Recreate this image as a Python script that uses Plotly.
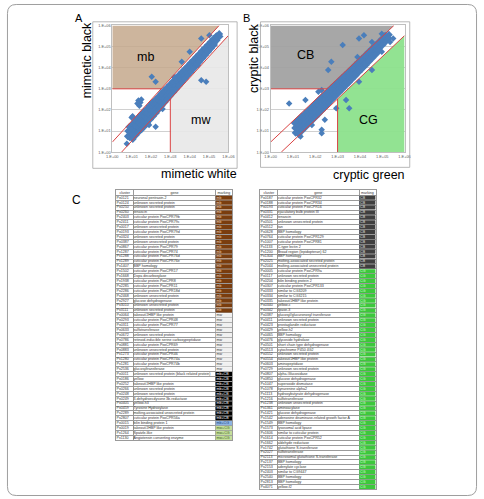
import numpy as np
import plotly.graph_objects as go

W, H = 484, 499
FONT = "Arial, 'Liberation Sans', sans-serif"

def X(p):
    return p / W

def Y(p):
    return 1 - p / H

# ---------------- data ----------------
TICK_VALUES = [1, 10, 100, 1000, 10000, 100000, 1000000]
TICK_LABELS = ["1.E+00", "1.E+01", "1.E+02", "1.E+03", "1.E+04", "1.E+05", "1.E+06"]
THRESHOLD = 1000
FOLD = 3

# Panel A, log10 expression (mimetic white = x, mimetic black = y)
MIMETIC_WHITE_LOG = [
    0.80, 0.82, 0.90, 0.92, 0.88,
    1.05, 1.03, 1.07, 1.06, 1.20, 1.22, 1.18, 1.21, 1.35, 1.37, 1.33, 1.36,
    1.50, 1.52, 1.48, 1.51, 1.65, 1.67, 1.63, 1.66, 1.80, 1.82, 1.78, 1.81,
    1.95, 1.97, 1.93, 1.96, 2.10, 2.12, 2.08, 2.11, 2.25, 2.27, 2.23, 2.26,
    2.40, 2.42, 2.38, 2.41, 2.55, 2.57, 2.53, 2.56, 2.70, 2.72, 2.68, 2.71,
    2.85, 2.87, 2.83, 2.86, 3.00, 3.02, 2.98, 3.01, 3.15, 3.17, 3.13, 3.16,
    3.30, 3.32, 3.28, 3.31, 3.45, 3.47, 3.43, 3.46, 3.60, 3.62, 3.58, 3.61,
    3.75, 3.77, 3.73, 3.76, 3.90, 3.92, 3.88, 3.91, 4.05, 4.07, 4.03, 4.06,
    4.20, 4.22, 4.18, 4.21, 4.35, 4.37, 4.33, 4.36, 4.50, 4.52, 4.48, 4.51,
    4.65, 4.67, 4.63, 4.66, 4.80, 4.82, 4.78, 4.81, 4.95, 4.97, 4.93, 4.96,
    5.10, 5.12, 5.08, 5.11, 5.25, 5.27, 5.23, 5.26, 5.40, 5.42, 5.38,
    5.55, 5.53,
]
MIMETIC_BLACK_LOG = [
    0.75, 1.00, 0.70, 0.95, 1.20,
    0.85, 1.10, 1.35, 0.62, 1.00, 1.25, 1.48, 0.80, 1.15, 1.40, 1.62, 0.95,
    1.30, 1.55, 1.78, 1.08, 1.45, 1.70, 1.92, 1.22, 1.60, 1.85, 2.05, 1.38,
    1.75, 2.00, 2.20, 1.55, 1.90, 2.15, 2.35, 1.70, 2.05, 2.30, 2.48, 1.86,
    2.22, 2.45, 2.62, 2.03, 2.38, 2.60, 2.78, 2.20, 2.53, 2.75, 2.92, 2.36,
    2.68, 2.90, 3.06, 2.52, 2.84, 3.05, 3.20, 2.68, 3.00, 3.20, 3.35, 2.84,
    3.15, 3.35, 3.50, 3.00, 3.30, 3.50, 3.64, 3.16, 3.46, 3.65, 3.78, 3.32,
    3.62, 3.80, 3.92, 3.48, 3.77, 3.95, 4.06, 3.64, 3.92, 4.10, 4.21, 3.80,
    4.08, 4.25, 4.35, 3.96, 4.23, 4.40, 4.50, 4.12, 4.38, 4.55, 4.64, 4.28,
    4.53, 4.70, 4.79, 4.44, 4.68, 4.85, 4.93, 4.60, 4.83, 5.00, 5.07, 4.76,
    4.98, 5.15, 5.22, 4.92, 5.14, 5.30, 5.36, 5.08, 5.30, 5.45, 5.50,
    5.48, 5.60,
]
MIMETIC_OUT_WHITE_LOG = [2.04, 2.24, 1.35, 1.45, 1.30, 1.50, 1.40, 1.00, 1.05, 1.90, 2.24,
                         4.60, 4.85, 5.02, 4.60, 4.00, 3.59, 4.43, 0.75, 2.60, 3.20]
MIMETIC_OUT_BLACK_LOG = [3.57, 3.33, 2.45, 2.35, 2.30, 2.50, 2.20, 1.64, 1.70, 1.29, 1.21,
                         3.41, 3.33, 5.54, 5.38, 4.75, 4.28, 4.12, 0.40, 2.05, 3.55]

# Panel B, log10 expression (cryptic green = x, cryptic black = y)
CRYPTIC_GREEN_LOG = [
    1.10, 1.12, 1.08, 1.25, 1.27, 1.23, 1.26, 1.40, 1.42, 1.38, 1.41,
    1.55, 1.57, 1.53, 1.56, 1.70, 1.72, 1.68, 1.71, 1.85, 1.87, 1.83, 1.86,
    2.00, 2.02, 1.98, 2.01, 2.15, 2.17, 2.13, 2.16, 2.30, 2.32, 2.28, 2.31,
    2.45, 2.47, 2.43, 2.46, 2.60, 2.62, 2.58, 2.61, 2.75, 2.77, 2.73, 2.76,
    2.90, 2.92, 2.88, 2.91, 3.05, 3.07, 3.03, 3.06, 3.20, 3.22, 3.18, 3.21,
    3.35, 3.37, 3.33, 3.36, 3.50, 3.52, 3.48, 3.51, 3.65, 3.67, 3.63, 3.66,
    3.80, 3.82, 3.78, 3.81, 3.95, 3.97, 3.93, 3.96, 4.10, 4.12, 4.08, 4.11,
    4.25, 4.27, 4.23, 4.26, 4.40, 4.42, 4.38, 4.41, 4.55, 4.57, 4.53, 4.56,
    4.70, 4.72, 4.68, 4.71, 4.85, 4.87, 4.83, 4.86, 5.00, 5.02, 4.98,
    5.15, 5.17, 5.13, 5.30, 5.28,
]
CRYPTIC_BLACK_LOG = [
    1.15, 0.92, 1.38, 1.30, 1.06, 1.52, 0.85, 1.45, 1.22, 1.68, 1.02,
    1.60, 1.38, 1.82, 1.18, 1.76, 1.54, 1.97, 1.34, 1.92, 1.70, 2.12, 1.50,
    2.08, 1.86, 2.28, 1.66, 2.24, 2.02, 2.44, 1.82, 2.40, 2.18, 2.60, 1.99,
    2.56, 2.34, 2.75, 2.16, 2.72, 2.50, 2.90, 2.33, 2.87, 2.66, 3.05, 2.50,
    3.03, 2.82, 3.20, 2.66, 3.18, 2.98, 3.35, 2.82, 3.34, 3.14, 3.50, 2.98,
    3.50, 3.30, 3.65, 3.14, 3.66, 3.46, 3.80, 3.30, 3.82, 3.62, 3.96, 3.47,
    3.98, 3.78, 4.12, 3.63, 4.14, 3.94, 4.27, 3.80, 4.30, 4.10, 4.43, 3.96,
    4.46, 4.26, 4.58, 4.12, 4.62, 4.42, 4.74, 4.29, 4.78, 4.58, 4.90, 4.46,
    4.94, 4.75, 5.05, 4.62, 5.10, 4.92, 5.20, 4.80, 5.26, 5.08, 5.36,
    5.42, 5.25, 5.52, 5.56, 5.40,
]
CRYPTIC_OUT_GREEN_LOG = [0.83, 1.56, 2.14, 2.29, 2.58, 2.72, 3.23, 3.89, 3.67, 3.96, 4.18, 4.54,
                         4.69, 4.98, 5.35, 4.98, 4.54, 3.96, 3.38, 3.52, 2.94, 2.43, 2.29, 2.29,
                         1.85, 1.34, 5.49]
CRYPTIC_OUT_BLACK_LOG = [2.31, 2.47, 2.86, 2.94, 3.89, 4.28, 5.07, 4.51, 3.96, 5.38, 5.54, 5.22,
                         5.07, 5.61, 5.22, 4.75, 3.89, 3.33, 2.47, 2.08, 2.08, 1.53, 1.06, 0.90,
                         1.29, 0.74, 5.38]

# Table C (left)
TABLE_HEADER = ["cluster", "gene", "marking"]
LEFT_CLUSTERS = [
    "Px0121", "Px0124", "Px0250", "Px0260", "Px2403", "Px2411", "Px0017", "Px0193", "Px0324", "Px0387",
    "Px0867", "Px1287", "Px1288", "Px1289", "Px1407", "Px1502", "Px1668", "Px1938", "Px2285", "Px2286",
    "Px2468", "Px2927", "Px3010", "Px3111", "Px0064", "Px0293", "Px0311", "Px0633", "Px0672", "Px0786",
    "Px0881", "Px0883", "Px1273", "Px1280", "Px1281", "Px2536", "Px0011", "Px0186", "Px0252", "Px0266",
    "Px0248", "Px0249", "Px0405", "Px0459", "Px2289", "Px2807", "Px0015", "Px0019", "Px1264", "Px1130",
]
LEFT_GENES = [
    "neuronal pentraxin-2", "unknown secreted protein", "unknown secreted protein", "tenascin",
    "cuticular protein PxoCPR79b", "cuticular protein PxoCPR79c", "unknown unsecreted protein",
    "cuticular protein PxoCPR79d", "unknown secreted protein", "unknown unsecreted protein",
    "cuticular protein PxoCPR79", "cuticular protein PxoCPR74", "cuticular protein PxoCPR76d",
    "cuticular protein PxoCPR76e", "BBP homology", "cuticular protein PxoCPR17", "Dopa decarboxylase",
    "cuticular protein PxoCPR8", "cuticular protein PxoCPR11", "cuticular protein PxoCPR18d",
    "unknown unsecreted protein", "glucose dehydrogenase", "unknown unsecreted protein",
    "unknown secreted protein", "takeout/JHBP like protein", "cuticular protein PxoCPR48",
    "cuticular protein PxoCPR77", "sulfotransferase", "unknown secreted protein",
    "retinoid-inducible serine carboxypeptidase", "cuticular protein PxoCPR69",
    "unknown unsecreted protein", "cuticular protein PxoCPR46", "cuticular protein PxoCPR74a",
    "cuticular protein PxoCPR74b", "glucosyltransferase",
    "unknown secreted protein (black related protein)", "yellow", "takeout/JHBP like protein",
    "unknown secreted protein", "unknown secreted protein", "3-dehydroecdysone 3b-reductase",
    "yellow-h3", "Tyrosine Hydroxylase", "molting-associated unsecreted protein",
    "cuticular protein PxoCPR56a", "bilin binding protein 1", "takeout/JHBP like protein",
    "Spatzle-like", "Angiotensin converting enzyme",
]
LEFT_MARKS = ["mb"] * 24 + ["mw"] * 12 + ["mb+CB"] * 10 + ["mb+CG"] * 1 + ["mw+CG"] * 3

# Table C (right)
RIGHT_CLUSTERS = [
    "Px0187", "Px0188", "Px0193", "Px0331", "Px0412", "Px0501", "Px0512", "Px0628", "Px0764", "Px1007",
    "Px1133", "Px1200", "Px1304", "Px2025", "Px2044", "Px0005", "Px0117", "Px0204", "Px0307", "Px0333",
    "Px0334", "Px0335", "Px0340", "Px0342", "Px0387", "Px0411", "Px0423", "Px0429", "Px0465", "Px0476",
    "Px0501", "Px0513", "Px0552", "Px0554", "Px0603", "Px0729", "Px0807", "Px0850", "Px1047", "Px1078",
    "Px1113", "Px1216", "Px1238", "Px1361", "Px1421", "Px1542", "Px1549", "Px1573", "Px1606", "Px1614",
    "Px1662", "Px1742", "Px2027", "Px2113", "Px2137", "Px2153", "Px2403", "Px2540", "Px2813", "Px4071",
]
RIGHT_GENES = [
    "cuticular protein PxoCPR32", "cuticular protein PxoCPR34", "cuticular protein PxoCPR16",
    "ejaculatory bulb protein III", "tenascin", "unknown unsecreted protein", "tan", "BBP homology",
    "cuticular protein PxoCPR129", "cuticular protein PxoCPR81", "C-type lectin 2",
    "Broad region (lepidopteran) 62", "BBP homology", "molting-associated secreted protein",
    "molting-associated unsecreted protein", "cuticular protein PxoCPR9a", "unknown secreted protein",
    "bilin binding protein 2", "cuticular protein PxoCPR133", "similar to CG3209",
    "similar to CG3215", "takeout/JHBP like protein", "yellow-c", "lipase-3",
    "glucosyl/glucuronosyl transferase", "unknown secreted protein", "prostaglandin reductase",
    "yellow-h2", "BBP homology", "glycoside hydrolase", "short chain type dehydrogenase",
    "cytochrome P450 4G2", "unknown secreted protein", "takeout/JHBP like protein", "aminopeptidase",
    "unknown secreted protein", "alpha-Glucosidase", "glucose dehydrogenase", "superoxide dismutase",
    "kynurenine alpha2", "hydroxybutyrate dehydrogenase", "sulfotransferase",
    "unknown unsecreted protein", "aminoacylase", "glucose dehydrogenase",
    "adenosine deaminase-related growth factor A", "BBP homology", "lysosomal acid lipase",
    "similar to cuticular protein", "cuticular protein PxoCPR52", "aldehyde reductase",
    "glutathione S-transferase", "sulfotransferase", "microsomal glutathione S-transferase",
    "BBP homology", "adenylate cyclase", "similar to CG9447", "BBP homology", "BBP homology",
    "yellow-f2",
]
RIGHT_MARKS = ["CB"] * 15 + ["CG"] * 45

MARK_FILL = {"mb": "#7A3D0E", "mw": "#F0F0F0", "mb+CB": "#000000", "mb+CG": "#8DB4E2",
             "mw+CG": "#C4DE9A", "CB": "#3F3F3F", "CG": "#3CC83C"}
MARK_TEXT = {"mb": "#EAD7BE", "mw": "#404040", "mb+CB": "#FFFFFF", "mb+CG": "#1F3F7F",
             "mw+CG": "#3F5F1F", "CB": "#E0E0E0", "CG": "#DFFFDF"}

# ---------------- styling ----------------
RED = "#D94343"
BLUE = "#4A7EBB"
fig = go.Figure()


def scatter_panel(xa, ya, wx, by, owx, oby, upper_fill, lower_fill):
    e = np.power(10.0, 6)
    t = THRESHOLD
    fig.add_trace(go.Scatter(x=[1, t / FOLD, e / FOLD, 1], y=[t, t, e, e], fill="toself",
                             fillcolor=upper_fill, mode="lines", line=dict(width=0),
                             xaxis=xa, yaxis=ya, hoverinfo="skip"))
    fig.add_trace(go.Scatter(x=[t, t, e, e], y=[1, t / FOLD, e / FOLD, 1], fill="toself",
                             fillcolor=lower_fill, mode="lines", line=dict(width=0),
                             xaxis=xa, yaxis=ya, hoverinfo="skip"))
    fig.add_trace(go.Scatter(x=np.power(10.0, wx), y=np.power(10.0, by), mode="markers",
                             marker=dict(symbol="diamond", size=6, color=BLUE, line=dict(width=0)),
                             xaxis=xa, yaxis=ya, hoverinfo="skip"))
    fig.add_trace(go.Scatter(x=np.power(10.0, owx), y=np.power(10.0, oby), mode="markers",
                             marker=dict(symbol="diamond", size=5, color=BLUE, line=dict(width=0)),
                             xaxis=xa, yaxis=ya, hoverinfo="skip"))
    fig.add_trace(go.Scatter(
        x=[1, e / FOLD, None, FOLD, e, None, 1, t / FOLD, None, t, t],
        y=[FOLD, e, None, 1, e / FOLD, None, t, t, None, 1, t / FOLD],
        mode="lines", line=dict(color=RED, width=1), xaxis=xa, yaxis=ya, hoverinfo="skip"))


scatter_panel("x", "y", MIMETIC_WHITE_LOG, MIMETIC_BLACK_LOG, MIMETIC_OUT_WHITE_LOG,
              MIMETIC_OUT_BLACK_LOG, "rgba(196,168,140,0.85)", "rgba(232,232,232,0.9)")
scatter_panel("x2", "y2", CRYPTIC_GREEN_LOG, CRYPTIC_BLACK_LOG, CRYPTIC_OUT_GREEN_LOG,
              CRYPTIC_OUT_BLACK_LOG, "rgba(160,160,160,0.92)", "rgba(140,225,140,0.95)")


def table(xa, ya, clusters, genes, marks, cols):
    n = len(genes)
    rows = list(range(1, n + 1))
    fig.add_trace(go.Bar(orientation="h", y=rows, x=[cols[3] - cols[2]] * n, base=[cols[2]] * n,
                         width=0.84, marker=dict(color=[MARK_FILL[m] for m in marks], line=dict(width=0)),
                         xaxis=xa, yaxis=ya, hoverinfo="skip"))
    tf = dict(family=FONT, size=3.6, color="#333333")
    fig.add_trace(go.Scatter(x=[(cols[0] + cols[1]) / 2, (cols[1] + cols[2]) / 2, (cols[2] + cols[3]) / 2],
                             y=[0, 0, 0], text=TABLE_HEADER, mode="text", textposition="middle center",
                             textfont=tf, xaxis=xa, yaxis=ya, hoverinfo="skip", cliponaxis=False))
    fig.add_trace(go.Scatter(x=[cols[0] + 0.3] * n, y=rows, text=clusters, mode="text",
                             textposition="middle right", textfont=tf, marker=dict(size=1),
                             xaxis=xa, yaxis=ya, hoverinfo="skip"))
    fig.add_trace(go.Scatter(x=[cols[1] + 0.3] * n, y=rows, text=genes, mode="text",
                             textposition="middle right", textfont=tf, marker=dict(size=1),
                             xaxis=xa, yaxis=ya, hoverinfo="skip"))
    fig.add_trace(go.Scatter(x=[cols[2] + 0.8] * n, y=rows, text=marks, mode="text",
                             textposition="middle right",
                             textfont=dict(family=FONT, size=3.6, color=[MARK_TEXT[m] for m in marks]),
                             marker=dict(size=1), xaxis=xa, yaxis=ya, hoverinfo="skip"))
    return n


LEFT_COLS = [0, 17.5, 102, 119]
RIGHT_COLS = [0, 17.6, 101.6, 118.3]
nl = table("x3", "y3", LEFT_CLUSTERS, LEFT_GENES, LEFT_MARKS, LEFT_COLS)
nr = table("x4", "y4", RIGHT_CLUSTERS, RIGHT_GENES, RIGHT_MARKS, RIGHT_COLS)

tickfont = dict(family=FONT, size=3.9, color="#595959")


def log_x(dom, anchor):
    return dict(domain=dom, anchor=anchor, type="log", range=[0, 6], tickvals=TICK_VALUES,
                ticktext=TICK_LABELS, tickfont=tickfont, showgrid=False, zeroline=False, ticks="",
                showline=True, mirror=True, linecolor="#BFBFBF", linewidth=0.8, fixedrange=True)


def log_y(dom, anchor):
    return dict(domain=dom, anchor=anchor, type="log", range=[0, 6], tickvals=TICK_VALUES,
                ticktext=TICK_LABELS, tickfont=tickfont, showgrid=True, gridcolor="#D0D0D0",
                gridwidth=0.8, zeroline=False, ticks="", showline=True, mirror=True,
                linecolor="#BFBFBF", linewidth=0.8, fixedrange=True)


def tab_x(dom, anchor, cols):
    return dict(domain=dom, anchor=anchor, range=[cols[0], cols[3]], tickvals=[cols[1], cols[2]],
                showticklabels=False, ticks="", showgrid=True, gridcolor="#9A9A9A", gridwidth=0.5,
                zeroline=False, showline=True, mirror=True, linecolor="#9A9A9A", linewidth=0.5)


def tab_y(dom, anchor, n):
    return dict(domain=dom, anchor=anchor, range=[n + 0.5, -0.5], tickvals=[i + 0.5 for i in range(n)],
                showticklabels=False, ticks="", showgrid=True, gridcolor="#9A9A9A", gridwidth=0.5,
                zeroline=False, showline=True, mirror=True, linecolor="#9A9A9A", linewidth=0.5)


ROW_H = 4.95
annotations = []


def ann(text, x, y, size, angle=0, color="#000000", xanchor="center"):
    annotations.append(dict(text=text, x=X(x), y=Y(y), xref="paper", yref="paper", showarrow=False,
                            font=dict(family=FONT, size=size, color=color), textangle=angle,
                            xanchor=xanchor, yanchor="middle"))


ann("A", 75, 15, 11)
ann("B", 247, 15, 11)
ann("C", 72, 199, 12)
ann("mimetic black", 83, 58, 12.5, angle=-90)
ann("cryptic black", 255, 56, 12.5, angle=-90)
ann("mimetic white", 198, 173, 12.5)
ann("cryptic green", 372, 174, 12.5)
ann("mb", 143, 55, 12.5)
ann("mw", 200, 118, 12.5)
ann("CB", 307, 53, 12.5)
ann("CG", 372, 118, 12.5)


def rounded_path(x0, y0, x1, y1, r):
    def P(x, y):
        return f"{X(x):.5f},{Y(y):.5f}"
    return (f"M {P(x0 + r, y0)} L {P(x1 - r, y0)} Q {P(x1, y0)} {P(x1, y0 + r)} "
            f"L {P(x1, y1 - r)} Q {P(x1, y1)} {P(x1 - r, y1)} L {P(x0 + r, y1)} "
            f"Q {P(x0, y1)} {P(x0, y1 - r)} L {P(x0, y0 + r)} Q {P(x0, y0)} {P(x0 + r, y0)} Z")


shapes = [
    dict(type="path", path=rounded_path(1.5, 1.5, 482.5, 497.5, 9), xref="paper", yref="paper",
         line=dict(color="#9E9E9E", width=1)),
    dict(type="rect", x0=X(89), x1=X(237), y0=Y(167), y1=Y(19), xref="paper", yref="paper",
         line=dict(color="#A6A6A6", width=0.8)),
    dict(type="rect", x0=X(261), x1=X(414), y0=Y(166), y1=Y(19), xref="paper", yref="paper",
         line=dict(color="#A6A6A6", width=0.8)),
]

fig.update_layout(
    width=W, height=H, margin=dict(l=0, r=0, t=0, b=0), paper_bgcolor="white",
    plot_bgcolor="white", showlegend=False, barmode="overlay",
    font=dict(family=FONT),
    xaxis=log_x([X(109), X(228)], "y"),
    yaxis=log_y([Y(150.7), Y(22.7)], "x"),
    xaxis2=log_x([X(271.3), X(408.7)], "y2"),
    yaxis2=log_y([Y(150.7), Y(22.7)], "x2"),
    xaxis3=tab_x([X(113), X(232)], "y3", LEFT_COLS),
    yaxis3=tab_y([Y(189.3 + ROW_H * (nl + 1)), Y(189.3)], "x3", nl),
    xaxis4=tab_x([X(260.7), X(379)], "y4", RIGHT_COLS),
    yaxis4=tab_y([Y(189.3 + ROW_H * (nr + 1)), Y(189.3)], "x4", nr),
    annotations=annotations,
    shapes=shapes,
)

fig.write_html("out.html")
